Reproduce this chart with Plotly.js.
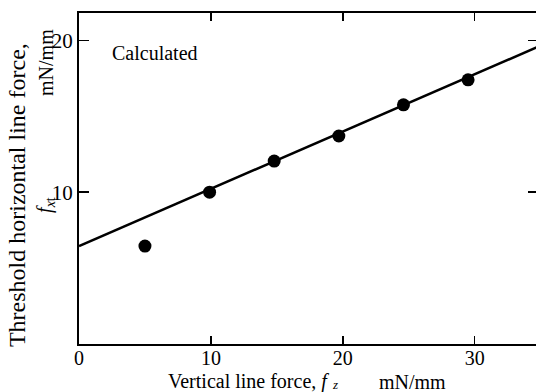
<!DOCTYPE html>
<html>
<head>
<meta charset="utf-8">
<script src="https://cdn.plot.ly/plotly-3.0.1.min.js"></script>
<style>
html,body{margin:0;padding:0;overflow:hidden;background:#fff;width:536px;height:392px;}
#chart{width:540px;height:392px;}
</style>
</head>
<body>
<div id="chart"></div>
<script>
// Measured points: vertical line force f_z (mN/mm) vs threshold horizontal line force f_xt (mN/mm)
var fz = [5, 9.9, 14.8, 19.7, 24.6, 29.5];
var fxt = [6.45, 10.0, 12.05, 13.7, 15.75, 17.4];
// Calculated line
var lineFz = [0, 35];
var lineFxt = [6.45, 19.65];
var xTicks = [0, 10, 20, 30];
var yTicks = [10, 20];

var fam = 'Liberation Serif, Times New Roman, serif';

var traces = [
  {x: lineFz, y: lineFxt, mode: 'lines', line: {color: '#000', width: 2.5}, hoverinfo: 'skip', showlegend: false},
  {x: fz, y: fxt, mode: 'markers', marker: {color: '#000', size: 13}, showlegend: false}
];

var axisCommon = {
  showgrid: false, zeroline: false, showline: true, linecolor: '#000', linewidth: 2,
  mirror: 'ticks', ticks: 'inside', tickcolor: '#000', tickwidth: 1.5,
  tickfont: {family: fam, size: 21, color: '#000'}, fixedrange: true
};

function ann(text, x, y, size, xanchor, angle) {
  return {text: text, xref: 'paper', yref: 'paper', x: x, y: y, xanchor: xanchor || 'center', yanchor: 'middle',
    textangle: angle || 0, showarrow: false, font: {family: fam, size: size, color: '#000'}};
}

var layout = {
  width: 540, height: 392,
  margin: {l: 79, r: 2, t: 13, b: 48},
  paper_bgcolor: '#fff', plot_bgcolor: '#fff',
  xaxis: Object.assign({}, axisCommon, {
    range: [0, 34.8], tickvals: xTicks, ticktext: xTicks.map(String), ticklen: 8, ticklabelstandoff: -5,
    tickfont: {family: fam, size: 20, color: '#000'}
  }),
  yaxis: Object.assign({}, axisCommon, {
    range: [0, 21.8], tickvals: yTicks, ticktext: yTicks.map(String), ticklen: 10
  }),
  annotations: [
    ann('Calculated', 0.0675, 0.879, 20, 'left'),
    ann('Vertical line force, <i>f</i>', 0.1895, -0.114, 20, 'left'),
    ann('<i>z</i>', 0.546, -0.122, 13, 'left'),
    ann('mN/mm', 0.649, -0.114, 20, 'left'),
    ann('Threshold horizontal line force,', -0.135, 0.45, 24, 'center', -90),
    ann('mN/mm', -0.072, 0.852, 20, 'center', -90),
    ann('<i>f</i><sub><i>x</i>t</sub>', -0.072, 0.42, 20, 'center', -90)
  ]
};

Plotly.newPlot('chart', traces, layout, {displayModeBar: false, staticPlot: true});
</script>
</body>
</html>
